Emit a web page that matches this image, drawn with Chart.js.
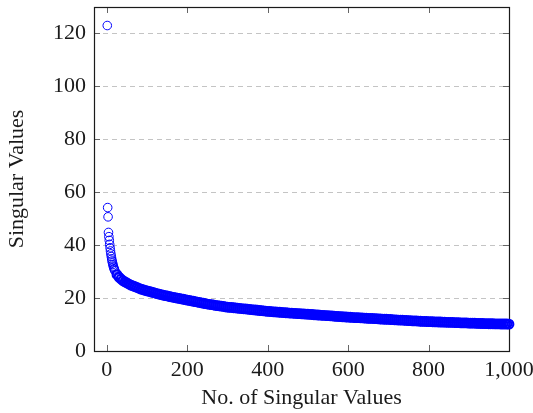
<!DOCTYPE html>
<html>
<head>
<meta charset="utf-8">
<script src="https://cdn.jsdelivr.net/npm/chart.js@4"></script>
<style>
html,body{margin:0;padding:0;background:#fff;}
#wrap{width:533px;height:413px;}
</style>
</head>
<body>
<div id="wrap"><canvas id="c" width="533" height="413"></canvas></div>
<script>
// Rank (index) of each singular value plotted
const ranks = [
  1,2,3,4,5,6,7,8,9,10,11,12,13,14,15,16,17,18,19,20,
  25,30,35,40,45,50,55,60,65,70,75,80,85,90,95,100,
  105,110,115,120,125,130,135,140,145,150,155,160,165,170,175,180,185,190,195,200,
  205,210,215,220,225,230,235,240,245,250,255,260,265,270,275,280,285,290,295,300,
  305,310,315,320,325,330,335,340,345,350,355,360,365,370,375,380,385,390,395,400,
  405,410,415,420,425,430,435,440,445,450,455,460,465,470,475,480,485,490,495,500,
  505,510,515,520,525,530,535,540,545,550,555,560,565,570,575,580,585,590,595,600,
  605,610,615,620,625,630,635,640,645,650,655,660,665,670,675,680,685,690,695,700,
  705,710,715,720,725,730,735,740,745,750,755,760,765,770,775,780,785,790,795,800,
  805,810,815,820,825,830,835,840,845,850,855,860,865,870,875,880,885,890,895,900,
  905,910,915,920,925,930,935,940,945,950,955,960,965,970,975,980,985,990,995,1000
];
// Singular values
const singularValues = [
  123,54.2,50.7,44.8,43.2,41.8,40.3,39.0,37.8,36.7,35.7,34.8,34.0,33.3,32.7,32.1,31.6,31.1,30.7,30.3,
  28.9,27.9,27.2,26.6,26.1,25.7,25.3,24.9,24.6,24.3,24.0,23.7,23.4,23.2,22.9,22.7,
  22.5,22.3,22.1,21.9,21.7,21.5,21.3,21.1,20.95,20.8,20.6,20.45,20.3,20.15,20.0,19.85,19.7,19.55,19.4,19.25,
  19.1,18.95,18.8,18.65,18.5,18.35,18.2,18.05,17.9,17.75,17.65,17.5,17.4,17.25,17.15,17.05,16.95,16.85,16.7,16.6,
  16.5,16.45,16.35,16.3,16.2,16.1,16.05,15.95,15.9,15.8,15.7,15.65,15.55,15.5,15.4,15.3,15.25,15.15,15.1,15.0,
  14.95,14.9,14.8,14.75,14.7,14.65,14.6,14.5,14.45,14.4,14.35,14.3,14.25,14.2,14.15,14.1,14.05,14.0,13.95,13.9,
  13.85,13.8,13.7,13.65,13.6,13.55,13.5,13.45,13.4,13.35,13.3,13.25,13.2,13.1,13.05,13.0,12.95,12.9,12.85,12.8,
  12.75,12.7,12.65,12.6,12.6,12.55,12.5,12.45,12.4,12.35,12.3,12.3,12.25,12.2,12.15,12.1,12.05,12.0,12.0,11.95,
  11.9,11.85,11.8,11.75,11.7,11.7,11.65,11.6,11.55,11.5,11.45,11.4,11.4,11.35,11.3,11.25,11.2,11.2,11.15,11.1,
  11.1,11.05,11.0,11.0,10.95,10.95,10.9,10.9,10.85,10.85,10.8,10.8,10.75,10.7,10.7,10.65,10.65,10.6,10.6,10.55,
  10.55,10.5,10.5,10.45,10.45,10.4,10.4,10.35,10.35,10.3,10.3,10.3,10.25,10.25,10.25,10.2,10.2,10.2,10.2,10.15
];
const xTicks = [0,200,400,600,800,1000];
const yTicks = [0,20,40,60,80,100,120];
const xLimits = [-32, 1000];
const yLimits = [0, 130];
const xTitle = 'No. of Singular Values';
const yTitle = 'Singular Values';

const points = ranks.map((r,i)=>({x:r, y:singularValues[i]}));
const FONT = '"Liberation Serif", "DejaVu Serif", serif';

const frame = {
  id:'frame',
  beforeDatasetsDraw(chart){
    const {ctx, chartArea:a, scales:{x,y}} = chart;
    ctx.save();
    ctx.strokeStyle = '#c4c4c4';
    ctx.lineWidth = 1;
    ctx.setLineDash([5,4]);
    yTicks.forEach(v=>{
      const py = Math.round(y.getPixelForValue(v))+0.5;
      ctx.beginPath(); ctx.moveTo(a.left, py); ctx.lineTo(a.right, py); ctx.stroke();
    });
    ctx.setLineDash([]);
    ctx.strokeStyle = '#666';
    ctx.lineWidth = 1;
    const L = 6;
    yTicks.forEach(v=>{
      const py = Math.round(y.getPixelForValue(v))+0.5;
      ctx.beginPath(); ctx.moveTo(a.left, py); ctx.lineTo(a.left+L, py);
      ctx.moveTo(a.right, py); ctx.lineTo(a.right-L, py); ctx.stroke();
    });
    xTicks.forEach(v=>{
      const px = Math.round(x.getPixelForValue(v))+0.5;
      ctx.beginPath(); ctx.moveTo(px, a.bottom); ctx.lineTo(px, a.bottom-L);
      ctx.moveTo(px, a.top); ctx.lineTo(px, a.top+L); ctx.stroke();
    });
    ctx.strokeStyle = '#1a1a1a';
    ctx.lineWidth = 1.2;
    ctx.strokeRect(Math.round(a.left)+0.5, Math.round(a.top)+0.5, Math.round(a.right-a.left), Math.round(a.bottom-a.top));
    ctx.restore();
  }
};

new Chart(document.getElementById('c'), {
  type:'scatter',
  data:{datasets:[{
    data:points,
    showLine:false,
    pointStyle:'circle',
    pointRadius:4.3,
    pointBorderWidth:(c)=> (c.raw && c.raw.x > 20) ? 2.2 : 1,
    pointBorderColor:'#0000ff',
    pointBackgroundColor:'rgba(0,0,0,0)',
    clip:false
  }]},
  options:{
    responsive:false,
    animation:false,
    events:[],
    layout:{padding:{left:4,right:24,top:7,bottom:2}},
    plugins:{legend:{display:false},tooltip:{enabled:false}},
    scales:{
      x:{
        type:'linear', min:xLimits[0], max:xLimits[1],
        afterBuildTicks(s){ s.ticks = xTicks.map(v=>({value:v})); },
        afterFit(s){ s.height = 60; s.paddingLeft = 0; s.paddingRight = 0; },
        grid:{display:false, drawTicks:false},
        border:{display:false},
        ticks:{padding:6, color:'#1a1a1a', font:{family:FONT, size:22}, maxRotation:0,
          callback:(v)=>Number(v).toLocaleString('en-US')},
        title:{display:true, text:xTitle, color:'#1a1a1a', font:{family:FONT, size:22}, padding:{top:2,bottom:0}}
      },
      y:{
        type:'linear', min:yLimits[0], max:yLimits[1],
        afterBuildTicks(s){ s.ticks = yTicks.map(v=>({value:v})); },
        afterFit(s){ s.width = 90; s.paddingTop = 0; s.paddingBottom = 0; },
        grid:{display:false, drawTicks:false},
        border:{display:false},
        ticks:{padding:8, color:'#1a1a1a', font:{family:FONT, size:22}},
        title:{display:true, text:yTitle, color:'#1a1a1a', font:{family:FONT, size:22}, padding:{top:0,bottom:0}}
      }
    }
  },
  plugins:[frame]
});
</script>
</body>
</html>
